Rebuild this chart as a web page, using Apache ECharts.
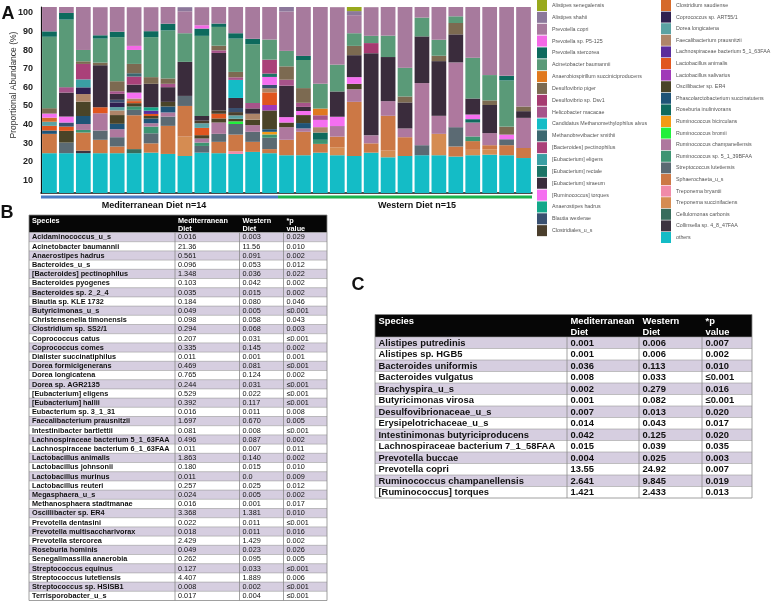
<!DOCTYPE html>
<html>
<head>
<meta charset="utf-8">
<script src="https://cdn.jsdelivr.net/npm/echarts@6/dist/echarts.min.js"></script>
<style>
  html, body { margin: 0; padding: 0; background: #fff; }
  #main { width: 778px; height: 601px; }
</style>
</head>
<body>
<div id="main"></div>
<script>
// samples: 14 Mediterranean + 15 Western
const samples = ['M1','M2','M3','M4','M5','M6','M7','M8','M9','M10','M11','M12','M13','M14',
  'W1','W2','W3','W4','W5','W6','W7','W8','W9','W10','W11','W12','W13','W14','W15'];
const groupNames = ['Mediterranean Diet n=14', 'Western Diet n=15'];
const groupSizes = [14, 15];

// legend columns (top of the stack first)
const legendCol1 = ['Alistipes senegalensis', 'Alistipes shahii', 'Prevotella copri', 'Prevotella sp. P5-125',
  'Prevotella stercorea', 'Acinetobacter baumannii', 'Anaerobiospirillum succiniciproducens', 'Desulfovibrio piger',
  'Desulfovibrio sp. Dsv1', 'Helicobacter macacae', 'Candidatus Methanomethylophilus alvus', 'Methanobrevibacter smithii',
  '[Bacteroides] pectinophilus', '[Eubacterium] eligens', '[Eubacterium] rectale', '[Eubacterium] siraeum',
  '[Ruminococcus] torques', 'Anaerostipes hadrus', 'Blautia wexlerae', 'Clostridiales_u_s'];
const legendCol2 = ['Clostridium saudiense', 'Coprococcus sp. ART55/1', 'Dorea longicatena', 'Faecalibacterium prausnitzii',
  'Lachnospiraceae bacterium 5_1_63FAA', 'Lactobacillus animalis', 'Lactobacillus salivarius', 'Oscillibacter sp. ER4',
  'Phascolarctobacterium succinatutens', 'Roseburia inulinivorans', 'Ruminococcus bicirculans', 'Ruminococcus bromii',
  'Ruminococcus champanellensis', 'Ruminococcus sp. 5_1_39BFAA', 'Streptococcus lutetiensis', 'Sphaerochaeta_u_s',
  'Treponema bryantii', 'Treponema succinifaciens', 'Cellulomonas carbonis', 'Collinsella sp. 4_8_47FAA', 'others'];

// proportional abundance (%) per sample
const alistSeneg    = [0,0,0,0,0, 0,0,0,0,0, 0,0,0,0,0, 0,0,0,2.2,0, 0,0,0,0,0, 0,0,0,0];
const alistShahii   = [0,0,0,0,0, 0,0,0,2.2,0, 0,0,0,0,2.5, 0,0,0,2.2,0, 0,0,0,0,0, 0,0,0,0];
const prevCopri     = [13.3,3.2,23.1,15.1,13.3, 20.8,12.9,9.0,11.8,9.7, 9.0,14.1,17.2,17.6,21.2, 26.3,41.3,30.9,9.7,15.4, 15.4,32.7,5.7,17.6,5.0, 27.3,36.6,37.0,53.5];
const prevP5        = [0,0,0,0,0, 2.2,0,0,0,1.8, 0,0,0,0,0, 0,0,0,0,0, 0,0,0,0,0, 0,0,0,0];
const prevStercorea = [2.9,3.6,0,1.8,2.9, 0,3.2,3.6,0,3.9, 1.8,2.9,2.9,0,0, 2.2,0,0,0,0, 0,0,0,0,0, 0,0,2.5,0];
const acinetobacter = [38.4,36.3,6.1,12.9,23.7, 7.5,21.5,25.8,15.4,43.1, 10.1,17.9,31.6,10.8,8.3, 15.1,13.3,14.4,6.8,3.9, 11.5,15.4,10.1,8.6,3.6, 21.9,13.6,24.8,0];
const anaerobiosp   = [0,0,0,0,0, 0,0,0,0,0, 0,0,0,0,0, 0,3.6,0,0,0, 0,0,0,0,0, 0,0,0,0];
const desulfoPiger  = [2.9,0,1.4,1.4,5.4, 5.0,3.6,2.9,0,0, 2.5,2.9,0,0,7.2, 7.9,0,0,5.0,0, 0,3.2,0,2.9,6.1, 0,2.5,4.3,2.5];
const desulfoDsv1   = [0,0,0,0,0, 0,0,0,0,0, 0,0,0,0,0, 0,0,0,0,5.4, 0,0,0,0,0, 0,0,0,0];
const helicobacter  = [0,2.9,0,0,1.4, 0,0,1.8,0,0, 1.4,1.4,2.9,0,3.2, 2.2,2.5,0,0,0, 0,0,0,0,0, 0,0,0,0];
const candidatus    = [0,0,0,0,0, 0,0,0,0,0, 0,9.7,0,0,0, 0,0,0,0,0, 0,0,0,0,0, 0,0,0,0];
const methanobrev   = [0,0,0,0,0, 1.8,0,0,0,0, 0,0,0,0,0, 0,0,0,0,0, 0,0,0,0,0, 0,0,0,0];
const bactPectino   = [0,0,8.3,0,0, 4.3,0,0,0,0, 0,0,0,7.5,0, 0,0,0,0,0, 0,0,0,0,0, 0,0,0,0];
const eubEligens    = [0,0,4.3,0,0, 0,0,0,0,0, 0,0,0,0,0, 0,0,0,0,0, 0,0,0,0,0, 0,0,0,0];
const eubRectale    = [0,0,0,0,0, 0,0,0,0,0, 0,0,0,1.8,0, 0,0,0,0,0, 0,0,0,0,0, 0,0,0,0];
const eubSiraeum    = [0,12.9,0,22.6,3.2, 4.3,12.6,7.9,18.3,2.5, 30.9,5.4,2.9,0,16.9, 2.2,0,13.6,11.8,44.2, 23.7,14.0,25.1,29.4,15.1, 8.6,15.1,0,3.6];
const rumTorques    = [2.2,3.2,0,0,0, 3.2,0,0,0,0, 0,0,0,4.3,2.9, 2.2,3.9,5.0,3.6,0, 0,0,0,0,0, 2.5,0,2.5,0];
const anaerostipes  = [0,0,0,0,0, 0,1.8,0,0,0, 0,0,0,0,0, 0,0,0,0,0, 0,0,0,0,0, 0,0,0,0];
const blautia       = [0,2.2,0,0,1.4, 0,0,0,0,0, 0,2.2,0,1.8,0, 0,0,0,0,0, 0,0,0,0,0, 0,0,0,0];
const clostridiales = [0,0,0,0,0, 0,0,0,0,1.4, 1.8,1.8,0,0,0, 0,0,0,0,0, 0,0,0,0,0, 0,0,0,0];
const clostSaud     = [2.2,0,0,0,0, 0,0,0,0,0, 0,0,0,0,0, 0,0,0,0,0, 0,0,0,0,0, 0,0,0,0];
const coprococcus   = [0,0,3.6,0,2.5, 0,0,0,0,0, 0,0,0,0,0, 0,0,0,0,0, 0,0,0,0,0, 0,0,0,0];
const doreaLong     = [2.2,0,0,0,1.8, 0,0,0,0,2.5, 0,1.8,0,0,0, 0,0,0,0,0, 0,0,0,0,0, 0,0,0,0];
const faecali       = [0,0,4.1,0,2.5, 1.4,0,0,0,0, 0,0,3.2,2.2,0, 0,2.9,0,0,0, 0,0,0,0,0, 0,0,0,0];
const lachno        = [0,0,0,0,0, 0,1.8,0,0,0, 0,0,0,0,0, 0,0,0,0,0, 0,0,0,0,0, 0,0,0,0];
const lactoAnimalis = [2.5,2.3,0,3.2,0, 1.1,1.1,0,0,3.9, 2.5,0,0,6.8,0, 0,0,0,0,0, 0,0,0,0,0, 0,0,0,0];
const lactoSaliv    = [0,0,0,0,0, 0,0,0,0,0, 0,0,0,2.9,0, 0,0,0,0,0, 0,0,0,0,0, 0,0,0,0];
const oscillibacter = [0,6.3,7.7,0,4.7, 1.8,1.4,2.5,0,1.8, 2.2,1.4,2.9,10.1,2.5, 4.3,0,0,2.9,0, 0,0,0,0,0, 0,0,0,0];
const phascolarcto  = [1.8,0,4.3,0,2.9, 0,2.5,3.2,0,0, 0,0,0,1.4,0, 2.9,0,0,0,0, 0,0,0,0,0, 0,0,0,0];
const roseburia     = [0,0,0,0,0, 0,0,0,0,0, 0,0,0,0,0, 0,3.9,0,0,0, 0,0,0,0,0, 1.8,0,0,0];
const rumBicirc     = [0,0,0,0,0, 0,0,0,0,0, 0,0,0,1.4,0, 0,0,0,0,0, 0,0,0,0,0, 0,0,0,0];
const rumBromii     = [0,0,0,0,0, 0,0,0,0,0, 0,1.4,0,0,0, 0,0,0,0,0, 0,0,0,0,0, 0,0,0,0];
const rumChampan    = [0,0,3.2,9.3,4.3, 0,1.8,2.2,0,2.2, 6.1,0,3.6,0,6.8, 1.8,0,5.7,6.8,4.3, 7.9,4.7,33.4,9.7,34.8, 7.5,6.5,0,16.2];
const rumSp         = [0,0,1.4,0,0, 1.8,3.6,0,0,1.8, 0,0,0,1.8,0, 0,2.2,0,0,0, 0,0,0,0,0, 2.5,0,0,0];
const strepLutet    = [0,5.7,0,5.0,5.0, 2.9,5.4,5.0,5.4,3.6, 4.3,5.7,5.4,6.1,0, 0,0,0,0,0, 0,0,5.4,0,10.4, 0,0,3.2,0];
const sphaerochaeta = [10.4,0,9.7,7.2,3.6, 18.2,5.0,15.1,16.5,0, 6.1,9.0,5.4,2.2,8.3, 12.6,4.7,5.7,29.1,5.0, 18.7,10.1,0,0,5.4, 4.7,2.2,5.4,5.4];
const trepBryantii  = [0,0,0,0,0, 0,0,0,0,0, 0,1.4,0,0,0, 0,0,0,0,0, 0,0,0,0,0, 0,0,0,0];
const trepSuccin    = [0,0,0,0,0, 0,0,0,10.4,0, 0,0,0,0,0, 0,0,4.3,0,0, 3.6,0,0,11.5,0, 2.9,2.9,0,0];
const cellulomonas  = [0,0,0,0,0, 2.2,0,0,0,0, 0,0,0,0,0, 0,0,0,0,0, 0,0,0,0,0, 0,0,0,0];
const collinsella   = [0,0,1.4,0,0, 0,0,0,0,0, 0,0,0,0,0, 0,0,0,0,0, 0,0,0,0,0, 0,0,0,0];
const othersAb      = [21.4,21.4,21.4,21.4,21.4, 21.4,21.7,21.0,19.9,21.7, 21.4,21.0,22.1,21.4,20.3, 20.3,21.7,20.3,19.9,21.7, 19.2,19.9,20.3,20.3,19.6, 20.3,20.6,20.3,18.8];

const abundance = {
  'Alistipes senegalensis': alistSeneg, 'Alistipes shahii': alistShahii, 'Prevotella copri': prevCopri,
  'Prevotella sp. P5-125': prevP5, 'Prevotella stercorea': prevStercorea, 'Acinetobacter baumannii': acinetobacter,
  'Anaerobiospirillum succiniciproducens': anaerobiosp, 'Desulfovibrio piger': desulfoPiger,
  'Desulfovibrio sp. Dsv1': desulfoDsv1, 'Helicobacter macacae': helicobacter,
  'Candidatus Methanomethylophilus alvus': candidatus, 'Methanobrevibacter smithii': methanobrev,
  '[Bacteroides] pectinophilus': bactPectino, '[Eubacterium] eligens': eubEligens, '[Eubacterium] rectale': eubRectale,
  '[Eubacterium] siraeum': eubSiraeum, '[Ruminococcus] torques': rumTorques, 'Anaerostipes hadrus': anaerostipes,
  'Blautia wexlerae': blautia, 'Clostridiales_u_s': clostridiales, 'Clostridium saudiense': clostSaud,
  'Coprococcus sp. ART55/1': coprococcus, 'Dorea longicatena': doreaLong, 'Faecalibacterium prausnitzii': faecali,
  'Lachnospiraceae bacterium 5_1_63FAA': lachno, 'Lactobacillus animalis': lactoAnimalis,
  'Lactobacillus salivarius': lactoSaliv, 'Oscillibacter sp. ER4': oscillibacter,
  'Phascolarctobacterium succinatutens': phascolarcto, 'Roseburia inulinivorans': roseburia,
  'Ruminococcus bicirculans': rumBicirc, 'Ruminococcus bromii': rumBromii,
  'Ruminococcus champanellensis': rumChampan, 'Ruminococcus sp. 5_1_39BFAA': rumSp,
  'Streptococcus lutetiensis': strepLutet, 'Sphaerochaeta_u_s': sphaerochaeta, 'Treponema bryantii': trepBryantii,
  'Treponema succinifaciens': trepSuccin, 'Cellulomonas carbonis': cellulomonas,
  'Collinsella sp. 4_8_47FAA': collinsella, 'others': othersAb
};

const speciesColor = {
  'Alistipes senegalensis': '#98a91c', 'Alistipes shahii': '#8c789b', 'Prevotella copri': '#a77a9d',
  'Prevotella sp. P5-125': '#f468e6', 'Prevotella stercorea': '#0d6a5d', 'Acinetobacter baumannii': '#5a9a78',
  'Anaerobiospirillum succiniciproducens': '#e0791f', 'Desulfovibrio piger': '#7c6a51',
  'Desulfovibrio sp. Dsv1': '#a63b71', 'Helicobacter macacae': '#a6538a',
  'Candidatus Methanomethylophilus alvus': '#14bcc6', 'Methanobrevibacter smithii': '#3c6870',
  '[Bacteroides] pectinophilus': '#aa4179', '[Eubacterium] eligens': '#3a9fa3', '[Eubacterium] rectale': '#1c7466',
  '[Eubacterium] siraeum': '#3a2c3c', '[Ruminococcus] torques': '#f56ff0', 'Anaerostipes hadrus': '#13a88a',
  'Blautia wexlerae': '#3a5070', 'Clostridiales_u_s': '#4b3f2d', 'Clostridium saudiense': '#d56a2b',
  'Coprococcus sp. ART55/1': '#2f2050', 'Dorea longicatena': '#5ba2a3', 'Faecalibacterium prausnitzii': '#ae8569',
  'Lachnospiraceae bacterium 5_1_63FAA': '#5a2c9c', 'Lactobacillus animalis': '#e0561f',
  'Lactobacillus salivarius': '#a03ab8', 'Oscillibacter sp. ER4': '#4a4428',
  'Phascolarctobacterium succinatutens': '#1f5477', 'Roseburia inulinivorans': '#0f6a5e',
  'Ruminococcus bicirculans': '#f29a16', 'Ruminococcus bromii': '#20f03c',
  'Ruminococcus champanellensis': '#ae789e', 'Ruminococcus sp. 5_1_39BFAA': '#3d9472',
  'Streptococcus lutetiensis': '#5b6a73', 'Sphaerochaeta_u_s': '#cc7845', 'Treponema bryantii': '#f08aa8',
  'Treponema succinifaciens': '#d58c52', 'Cellulomonas carbonis': '#386c5c',
  'Collinsella sp. 4_8_47FAA': '#3d3340', 'others': '#14bcc6'
};

// table B
const tableBSpecies = ['Acidaminococcus_u_s', 'Acinetobacter baumannii', 'Anaerostipes hadrus', 'Bacteroides_u_s',
  '[Bacteroides] pectinophilus', 'Bacteroides pyogenes', 'Bacteroides sp. 2_2_4', 'Blautia sp. KLE 1732',
  'Butyricimonas_u_s', 'Christensenella timonensis', 'Clostridium sp. SS2/1', 'Coprococcus catus',
  'Coprococcus comes', 'Dialister succinatiphilus', 'Dorea formicigenerans', 'Dorea longicatena',
  'Dorea sp. AGR2135', '[Eubacterium] eligens', '[Eubacterium] hallii', 'Eubacterium sp. 3_1_31',
  'Faecalibacterium prausnitzii', 'Intestinibacter bartlettii', 'Lachnospiraceae bacterium 5_1_63FAA',
  'Lachnospiraceae bacterium 6_1_63FAA', 'Lactobacillus animalis', 'Lactobacillus johnsonii',
  'Lactobacillus murinus', 'Lactobacillus reuteri', 'Megasphaera_u_s', 'Methanosphaera stadtmanae',
  'Oscillibacter sp. ER4', 'Prevotella dentasini', 'Prevotella multisaccharivorax', 'Prevotella stercorea',
  'Roseburia hominis', 'Senegalimassilia anaerobia', 'Streptococcus equinus', 'Streptococcus lutetiensis',
  'Streptococcus sp. HSISB1', 'Terrisporobacter_u_s'];
const tableBMed = ['0.016','21.36','0.561','0.096','1.348','0.103','0.035','0.184','0.049','0.098',
  '0.294','0.207','0.335','0.011','0.469','0.765','0.244','0.529','0.392','0.016',
  '1.697','0.081','0.496','0.011','1.863','0.180','0.011','0.257','0.024','0.016',
  '3.368','0.022','0.018','2.429','0.049','0.262','0.127','4.407','0.008','0.017'];
const tableBWest = ['0.003','11.56','0.091','0.053','0.036','0.042','0.015','0.080','0.005','0.058',
  '0.068','0.031','0.145','0.001','0.081','0.124','0.031','0.022','0.117','0.011',
  '0.670','0.008','0.087','0.007','0.140','0.015','0.0','0.025','0.005','0.001',
  '1.381','0.011','0.011','1.429','0.023','0.095','0.033','1.889','0.002','0.004'];
const tableBP = ['0.029','0.010','0.002','0.012','0.022','0.002','0.002','0.046','≤0.001','0.043',
  '0.003','≤0.001','0.002','0.001','≤0.001','0.002','≤0.001','≤0.001','≤0.001','0.008',
  '0.005','≤0.001','0.002','0.011','0.002','0.010','0.009','0.012','0.002','0.017',
  '0.010','≤0.001','0.016','0.002','0.026','0.005','≤0.001','0.006','≤0.001','≤0.001'];

// table C
const tableCSpecies = ['Alistipes putredinis', 'Alistipes sp. HGB5', 'Bacteroides uniformis', 'Bacteroides vulgatus',
  'Brachyspira_u_s', 'Butyricimonas virosa', 'Desulfovibrionaceae_u_s', 'Erysipelotrichaceae_u_s',
  'Intestinimonas butyriciproducens', 'Lachnospiraceae bacterium 7_1_58FAA', 'Prevotella buccae',
  'Prevotella copri', 'Ruminococcus champanellensis', '[Ruminococcus] torques'];
const tableCMed = ['0.001','0.001','0.036','0.008','0.002','0.001','0.007','0.014','0.042','0.015','0.004','13.55','2.641','1.421'];
const tableCWest = ['0.006','0.006','0.113','0.033','0.279','0.082','0.013','0.043','0.125','0.039','0.025','24.92','9.845','2.433'];
const tableCP = ['0.007','0.002','0.010','≤0.001','0.016','≤0.001','0.020','0.017','0.020','0.035','0.003','0.007','0.019','0.013'];
const tableHeader = ['Species', 'Mediterranean\nDiet', 'Western\nDiet', '*p\nvalue'];

const FONT = '"Liberation Sans", Arial, sans-serif';
const chart = echarts.init(document.getElementById('main'));

// bottom of the stack first
const stackOrder = legendCol1.concat(legendCol2).reverse();

const option = {
  animation: false,
  grid: { left: 41, right: 246, top: 7, bottom: 408 },
  xAxis: {
    type: 'category',
    data: samples,
    axisLine: { lineStyle: { color: '#111', width: 1.5 } },
    axisTick: { show: false },
    axisLabel: { show: false }
  },
  yAxis: {
    type: 'value',
    min: 0, max: 100, interval: 10,
    axisLine: { show: true, lineStyle: { color: '#111', width: 1.2 } },
    axisTick: { show: false },
    splitLine: { show: false },
    axisLabel: {
      formatter: v => (v === 0 ? '' : v),
      fontFamily: FONT, fontWeight: 'bold', fontSize: 9, color: '#222', margin: 8,
      verticalAlign: 'top', lineHeight: 12
    }
  },
  legend: [
    {
      data: legendCol1, orient: 'vertical', left: 537, top: 0, padding: 0,
      itemWidth: 10, itemHeight: 11, itemGap: 0.85, icon: 'rect', selectedMode: false,
      textStyle: { fontFamily: FONT, fontSize: 5.3, color: '#555' }
    },
    {
      data: legendCol2, orient: 'vertical', left: 661, top: 0, padding: 0,
      itemWidth: 10, itemHeight: 11, itemGap: 0.6, icon: 'rect', selectedMode: false,
      textStyle: { fontFamily: FONT, fontSize: 5.3, color: '#555' }
    }
  ],
  series: stackOrder.map(name => ({
    name: name,
    type: 'bar',
    stack: 'total',
    barCategoryGap: '13%',
    data: abundance[name],
    itemStyle: { color: speciesColor[name] },
    emphasis: { disabled: true }
  }))
};
chart.setOption(option);

// decorations: group bars, labels, panel letters, tables
const gfx = [];
const c0 = chart.convertToPixel({ xAxisIndex: 0 }, samples[0]);
const c1 = chart.convertToPixel({ xAxisIndex: 0 }, samples[1]);
const pitch = c1 - c0;
let start = c0 - pitch / 2;
const groupColors = ['#4a7cc4', '#1db34c'];
const groupLabelX = [154, 417];
groupSizes.forEach((n, g) => {
  gfx.push({ type: 'rect', shape: { x: start, y: 195.5, width: n * pitch, height: 3 }, style: { fill: groupColors[g] } });
  gfx.push({ type: 'text', x: groupLabelX[g], y: 205.5,
    style: { text: groupNames[g], fontFamily: FONT, fontWeight: 'bold', fontSize: 9, fill: '#111', align: 'center', verticalAlign: 'middle' } });
  start += n * pitch;
});

gfx.push({ type: 'text', x: 14, y: 85, rotation: Math.PI / 2,
  style: { text: 'Proportional Abundance (%)', fontFamily: FONT, fontSize: 8.5, fill: '#333', align: 'center', verticalAlign: 'middle' } });

[['A', 8, 14], ['B', 7, 213], ['C', 358, 285]].forEach(p => {
  gfx.push({ type: 'text', x: p[1], y: p[2],
    style: { text: p[0], fontFamily: FONT, fontWeight: 'bold', fontSize: 18, fill: '#111', align: 'center', verticalAlign: 'middle' } });
});

function addTable(t, cols) {
  const nRows = cols[0].length;
  const x0 = t.edges[0], x1 = t.edges[4];
  const bodyTop = t.top + t.headH;
  gfx.push({ type: 'rect', shape: { x: x0, y: t.top, width: x1 - x0, height: t.headH }, style: { fill: '#060606' } });
  tableHeader.forEach((h, j) => {
    gfx.push({ type: 'text', x: t.edges[j] + t.pad, y: t.top + 1.5,
      style: { text: h, fontFamily: FONT, fontWeight: 'bold', fontSize: t.fs, lineHeight: t.headLH, fill: '#fff', verticalAlign: 'top' } });
  });
  for (let i = 0; i < nRows; i++) {
    const y = bodyTop + i * t.rowH;
    gfx.push({ type: 'rect', shape: { x: x0, y: y, width: x1 - x0, height: t.rowH },
      style: { fill: i % 2 === 0 ? '#d6cee0' : '#ffffff' } });
    gfx.push({ type: 'line', shape: { x1: x0, y1: y, x2: x1, y2: y }, style: { stroke: '#9a9a9a', lineWidth: 0.6 } });
    for (let j = 0; j < 4; j++) {
      gfx.push({ type: 'text', x: t.edges[j] + t.pad, y: y + t.rowH / 2 + 0.3,
        style: { text: cols[j][i], fontFamily: FONT, fontWeight: (j === 0 || t.boldNum) ? 'bold' : 'normal',
          fontSize: j === 0 ? t.fs : t.fsNum, fill: '#111', verticalAlign: 'middle' } });
    }
  }
  const bottom = bodyTop + nRows * t.rowH;
  for (let j = 1; j < 4; j++) {
    gfx.push({ type: 'line', shape: { x1: t.edges[j], y1: bodyTop, x2: t.edges[j], y2: bottom }, style: { stroke: '#8a8a8a', lineWidth: 0.8 } });
  }
  gfx.push({ type: 'rect', shape: { x: x0, y: t.top, width: x1 - x0, height: bottom - t.top },
    style: { fill: 'none', stroke: '#888', lineWidth: 0.8 } });
}

addTable({ edges: [29, 175, 239.5, 283.5, 327], top: 215, headH: 17.5, headLH: 8.5, rowH: 9.2, pad: 3, fs: 7.3, fsNum: 7.3, boldNum: false },
  [tableBSpecies, tableBMed, tableBWest, tableBP]);
addTable({ edges: [375, 567, 639, 702, 752], top: 314.5, headH: 22.5, headLH: 11, rowH: 11.5, pad: 3.5, fs: 9.4, fsNum: 9.4, boldNum: true },
  [tableCSpecies, tableCMed, tableCWest, tableCP]);

chart.setOption({ graphic: gfx });
</script>
</body>
</html>
